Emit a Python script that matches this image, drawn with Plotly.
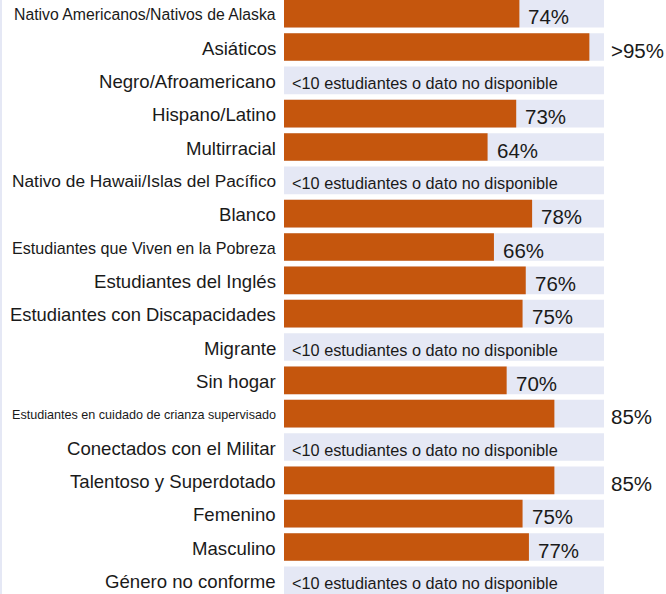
import plotly.graph_objects as go

categories = [
    "Nativo Americanos/Nativos de Alaska",
    "Asiáticos",
    "Negro/Afroamericano",
    "Hispano/Latino",
    "Multirracial",
    "Nativo de Hawaii/Islas del Pacífico",
    "Blanco",
    "Estudiantes que Viven en la Pobreza",
    "Estudiantes del Inglés",
    "Estudiantes con Discapacidades",
    "Migrante",
    "Sin hogar",
    "Estudiantes en cuidado de crianza supervisado",
    "Conectados con el Militar",
    "Talentoso y Superdotado",
    "Femenino",
    "Masculino",
    "Género no conforme",
]
# None = <10 estudiantes o dato no disponible
values = [74, 96, None, 73, 64, None, 78, 66, 76, 75, None, 70, 85, None, 85, 75, 77, None]
value_labels = ["74%", ">95%", None, "73%", "64%", None, "78%", "66%", "76%", "75%",
                None, "70%", "85%", None, "85%", "75%", "77%", None]
missing_text = "<10 estudiantes o dato no disponible"

# styling
label_sizes = [15.8, 18.6, 18.6, 18.6, 18.6, 17.3, 18.6, 16.1, 18.6, 18.4,
               18.6, 18.6, 12.6, 18.6, 18.6, 18.6, 18.6, 18.6]
FONT = "Liberation Sans, Arial, sans-serif"
ORANGE = "#C5560D"
BG = "#E5E8F5"
XMAX = 100.6
W, H = 666, 594
ML, MR = 284, 62
PW = W - ML - MR

idx = list(range(len(categories)))

fig = go.Figure()
fig.add_trace(go.Bar(
    y=idx, x=[XMAX] * len(idx), orientation="h", marker=dict(color=BG, line_width=0),
    width=0.83, hoverinfo="skip", showlegend=False,
))
fig.add_trace(go.Bar(
    y=idx, x=[v if v is not None else 0 for v in values], orientation="h",
    marker=dict(color=ORANGE, line_width=0), width=0.83, showlegend=False,
))

ann = []
for i, cat in enumerate(categories):
    ann.append(dict(
        x=-6 / PW, xref="paper", y=i, yref="y", text=cat, showarrow=False,
        xanchor="right", yanchor="middle", yshift=-1,
        font=dict(family=FONT, size=label_sizes[i], color="#1a1a1a"),
    ))
    v = values[i]
    if v is None:
        ann.append(dict(
            x=0, xref="x", y=i, yref="y", text=missing_text, showarrow=False,
            xanchor="left", yanchor="middle", xshift=6, yshift=-3,
            font=dict(family=FONT, size=16.3, color="#1a1a1a"),
        ))
    else:
        xpos = XMAX if v >= 85 else v
        ann.append(dict(
            x=xpos, xref="x", y=i, yref="y", text=value_labels[i], showarrow=False,
            xanchor="left", yanchor="middle", xshift=5 if v >= 85 else 7, yshift=-3,
            font=dict(family=FONT, size=20.5, color="#1a1a1a"),
        ))

fig.update_layout(
    width=W, height=H,
    margin=dict(l=ML, r=MR, t=0, b=0, pad=0),
    barmode="overlay",
    plot_bgcolor="white", paper_bgcolor="white",
    xaxis=dict(range=[0, XMAX], visible=False, fixedrange=True),
    yaxis=dict(range=[17.41, -0.41], visible=False, fixedrange=True),
    annotations=ann,
    shapes=[dict(type="line", xref="paper", yref="paper",
                 x0=(1 - ML) / PW, x1=(1 - ML) / PW, y0=0, y1=1,
                 line=dict(color=BG, width=2))],
    font=dict(family=FONT),
)

fig.write_html("out.html", config={"displayModeBar": False},
               post_script="document.body.style.margin='0';")
